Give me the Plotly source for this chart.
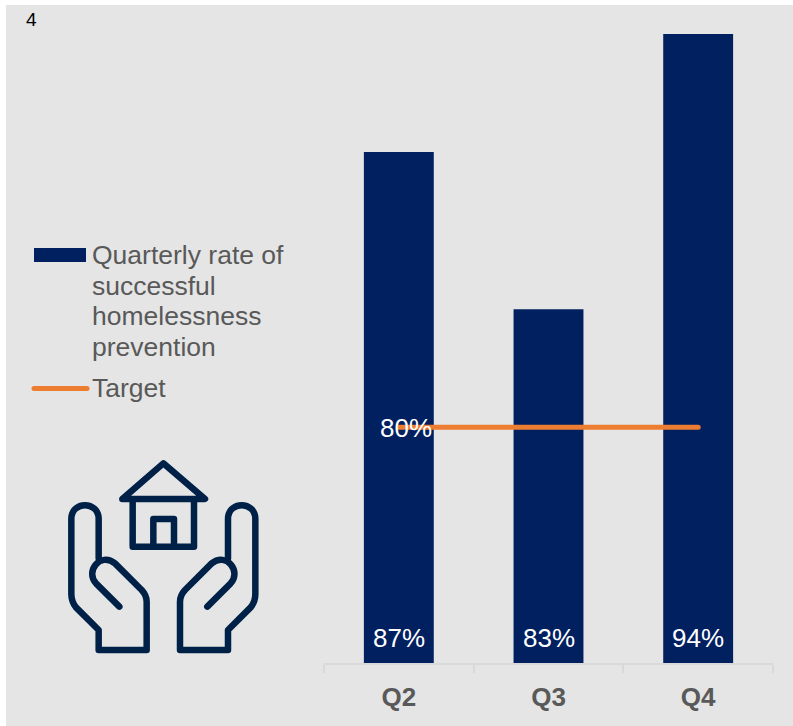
import plotly.graph_objects as go

quarters = ['Q2', 'Q3', 'Q4']
rate_values = [87, 83, 94]
rate_labels = ['87%', '83%', '94%']
target_values = [80, 80, 80]
target_label = '80%'
legend_lines = ['Quarterly rate of', 'successful', 'homelessness', 'prevention']
legend_target = 'Target'
page_number = '4'

FONT = 'Liberation Sans'
NAVY = '#002060'
ORANGE = '#ed7d31'
GREY_BG = '#e5e5e5'
TEXT_GREY = '#595959'
ICON = '#002147'

# plot area in page pixels, everything drawn off-axis is placed from these
LEFT, RIGHT, TOP, BOTTOM = 324, 773, 34, 663
WIDTH, HEIGHT = 793, 726


def px(x):
    return (x - LEFT) / (RIGHT - LEFT)


def py(y):
    return (BOTTOM - y) / (BOTTOM - TOP)


def icon_path(cmds, mirror=False):
    # cmds use pixels of the 3x crop of the icon, origin at (0, 440)
    out = []
    for c in cmds:
        pts = []
        for x, y in c[1]:
            if mirror:
                x = 980 - x
            pts.append(f'{px(x / 3):.5f},{py(440 + y / 3):.5f}')
        if c[0] == 'L':
            out.extend('L' + p for p in pts)
        else:
            out.append(c[0] + ' '.join(pts))
    return ' '.join(out)


fig = go.Figure()

fig.add_trace(go.Bar(x=quarters, y=rate_values, width=0.467,
                     marker=dict(color=NAVY, line_width=0),
                     name='Quarterly rate of successful homelessness prevention',
                     showlegend=False))

fig.add_trace(go.Scatter(x=quarters, y=target_values, mode='lines',
                         line=dict(color=ORANGE, width=5),
                         name=legend_target, showlegend=False))

annotations = []

# bar labels sit just above the axis
for q, label in zip(quarters, rate_labels):
    annotations.append(dict(x=q, y=py(638), yref='paper', yanchor='middle', text=label,
                            showarrow=False, font=dict(family=FONT, size=26, color='white')))

annotations.append(dict(x=quarters[0], y=target_values[0], text=target_label, showarrow=False,
                        xshift=7, yshift=-1, font=dict(family=FONT, size=26, color='white')))

# hand-made legend
legend_y = [255, 285.5, 316, 346.5]
for line, y in zip(legend_lines, legend_y):
    annotations.append(dict(x=px(90), y=py(y), xref='paper', yref='paper', text=line,
                            showarrow=False, xanchor='left', yanchor='middle',
                            font=dict(family=FONT, size=26.5, color=TEXT_GREY)))
annotations.append(dict(x=px(90), y=py(388), xref='paper', yref='paper', text=legend_target,
                        showarrow=False, xanchor='left', yanchor='middle',
                        font=dict(family=FONT, size=26.5, color=TEXT_GREY)))

annotations.append(dict(x=px(24), y=py(19), xref='paper', yref='paper', text=page_number,
                        showarrow=False, xanchor='left', yanchor='middle',
                        font=dict(family=FONT, size=19, color='black')))

shapes = [
    dict(type='rect', xref='paper', yref='paper', layer='below',
         x0=px(6), x1=px(WIDTH), y0=py(5), y1=py(HEIGHT),
         fillcolor=GREY_BG, line_width=0),
    dict(type='rect', xref='paper', yref='paper', layer='above',
         x0=px(34), x1=px(86), y0=py(248), y1=py(262),
         fillcolor=NAVY, line_width=0),
    dict(type='line', xref='paper', yref='paper', layer='above',
         x0=px(34), x1=px(87), y0=py(388.5), y1=py(388.5),
         line=dict(color=ORANGE, width=5)),
]

house = [
    ('M', [(367, 177)]), ('L', [(490, 70), (615, 177)]), ('Z', []),
    ('M', [(398, 177)]), ('L', [(398, 320), (582, 320), (582, 177)]),
    ('M', [(460, 320)]), ('L', [(460, 237), (522, 237), (522, 320)]),
]
hand = [
    ('M', [(440, 630)]), ('L', [(296, 630), (296, 570), (228, 502)]),
    ('C', [(218, 490), (214, 480), (214, 462)]), ('L', [(214, 237)]),
    ('C', [(214, 182), (296, 182), (296, 237)]), ('L', [(296, 355)]),
    ('M', [(358, 500)]), ('L', [(288, 430)]),
    ('C', [(255, 395), (300, 335), (345, 370)]), ('L', [(425, 450)]),
    ('C', [(436, 462), (440, 470), (440, 485)]), ('L', [(440, 630)]),
]
for path in [icon_path(house), icon_path(hand), icon_path(hand, mirror=True)]:
    shapes.append(dict(type='path', xref='paper', yref='paper', layer='above', path=path,
                       line=dict(color=ICON, width=6.5)))

fig.update_layout(
    width=WIDTH, height=HEIGHT,
    margin=dict(l=LEFT, r=WIDTH - RIGHT, t=TOP, b=HEIGHT - BOTTOM),
    paper_bgcolor='white',
    plot_bgcolor='rgba(0,0,0,0)',
    showlegend=False,
    xaxis=dict(type='category', categoryorder='array', categoryarray=quarters,
               showgrid=False, showline=True, linecolor='#d9d9d9', linewidth=2,
               ticks='outside', tickson='boundaries', ticklen=8, tickwidth=2,
               tickcolor='#d9d9d9', ticklabelstandoff=10,
               tickfont=dict(family=FONT, size=26, color=TEXT_GREY, weight='bold')),
    yaxis=dict(range=[74, 90], visible=False, showgrid=False),
    annotations=annotations,
    shapes=shapes,
)

# no page margin, rounded line ends like the original
post = """
document.body.style.margin = '0';
document.head.insertAdjacentHTML('beforeend',
  '<style>.shapelayer path, .js-line {stroke-linecap: round; stroke-linejoin: round;}</style>');
"""
fig.write_html("out.html", post_script=post, config=dict(displayModeBar=False))
